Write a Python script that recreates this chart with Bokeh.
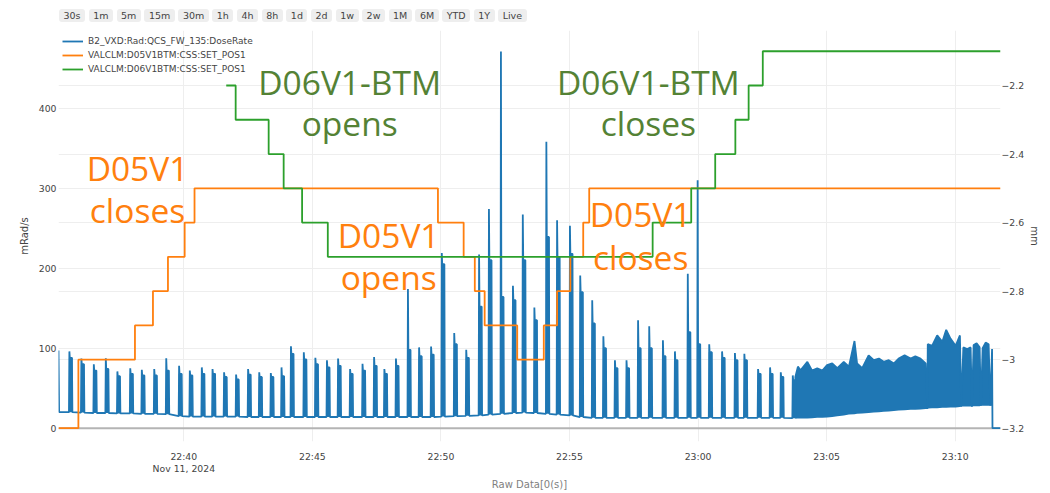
import pandas as pd
from bokeh.plotting import figure
from bokeh.models import (Range1d, LinearAxis, FixedTicker, DatetimeTickFormatter, Grid, Span,
                          Label, Legend, LegendItem, Div)
from bokeh.layouts import column
from bokeh.embed import file_html
from bokeh.resources import INLINE

DAY = "2024-11-11 "

# ---------------- data ----------------
dose_lead_times = ["22:35:07.6", "22:35:09"]
dose_lead_vals = [97, 20]

pulse_times = ["22:35:32", "22:36:00", "22:36:29", "22:36:57", "22:37:24", "22:37:54", "22:38:21",
               "22:38:50", "22:39:18", "22:39:48", "22:40:13", "22:40:41", "22:41:06", "22:41:33",
               "22:42:01", "22:42:29", "22:42:55", "22:43:22", "22:43:47", "22:44:09", "22:44:39",
               "22:45:06", "22:45:33", "22:45:59", "22:46:27", "22:46:56", "22:47:23", "22:47:47",
               "22:48:14", "22:48:42", "22:49:08", "22:49:36", "22:50:01", "22:50:30", "22:50:58",
               "22:51:28", "22:51:51", "22:52:19", "22:52:47", "22:53:10", "22:53:37", "22:54:05",
               "22:54:30", "22:55:00", "22:55:24", "22:55:52", "22:56:18", "22:56:45", "22:57:12",
               "22:57:39", "22:58:05", "22:58:37", "22:59:05", "22:59:35", "22:59:58", "23:00:25",
               "23:00:55", "23:01:25", "23:01:47", "23:02:19", "23:02:47", "23:03:12", "23:03:40"]
pulse_peak = [96, 87, 80, 87.5, 71, 75, 73, 74, 87.5, 78, 72, 76, 74, 70, 67, 74, 70, 69, 76, 102.5, 95,
              88, 85, 87, 74, 80.5, 89, 74, 87, 174, 101, 102, 219, 119, 98, 217, 274, 471, 178, 267,
              151, 358, 260, 253, 191, 160, 115, 85, 85, 135, 127.5, 110, 96, 193, 310, 105, 96, 94,
              93, 74, 76, 70, 66]
pulse_top = [88, 80, 72, 74, 65, 68, 66, 66, 72, 68, 66, 68, 68, 64, 61, 67, 64, 64, 65, 93, 86,
             80, 76, 78, 68, 72, 78, 68, 78, 98, 90, 92, 205, 105, 88, 152, 210, 164, 160, 210,
             135, 239, 214, 218, 170, 131, 100, 75, 75, 100, 100, 90, 85, 120, 105, 95, 88, 85,
             85, 68, 68, 64, 60]
pulse_base = [20, 19.5, 19, 19, 18.5, 18.5, 18, 18, 17.5, 15, 14.5, 14.5, 14.5, 14.5, 14.5, 14, 14, 14,
              14, 14, 14, 14, 14, 14, 14, 14, 14, 14, 14, 14, 14, 14, 14.5, 15, 15.5, 16, 17, 18, 19,
              19.5, 19, 18, 17, 16, 14, 13, 13, 13, 13, 13, 13, 13, 13, 13, 13, 13, 13, 13, 13, 13,
              13, 13, 12.5]

dense_times = ["23:03:47", "23:03:53", "23:03:59", "23:04:15", "23:04:26", "23:04:38", "23:04:50",
               "23:05:01", "23:05:13", "23:05:25", "23:05:40", "23:05:52", "23:06:05", "23:06:11",
               "23:06:23", "23:06:38", "23:06:50", "23:07:02", "23:07:13", "23:07:25", "23:07:37",
               "23:07:48", "23:08:02", "23:08:16", "23:08:27", "23:08:39", "23:08:51", "23:08:55",
               "23:08:56", "23:09:06", "23:09:18", "23:09:30", "23:09:39", "23:09:49", "23:10:01",
               "23:10:11", "23:10:14", "23:10:19", "23:10:28", "23:10:36", "23:10:39", "23:10:43",
               "23:10:50", "23:10:57", "23:11:00", "23:11:04", "23:11:11", "23:11:18", "23:11:22",
               "23:11:26"]
dense_top = [64, 77, 72.5, 83, 72, 75, 72, 79, 81, 75, 83, 77, 109, 81, 75, 91, 85, 87, 83, 85, 81,
             87, 91, 87, 90, 87, 81, 24, 105, 103, 116, 108, 123, 112, 103, 116, 27, 101, 99, 101,
             27, 104, 106, 101, 28, 100, 107, 105, 28, 99]
dense_low = [12, 12, 12, 12, 12.5, 13, 13, 13.5, 14, 15, 16, 17, 17.5, 18, 18.5, 19, 19.5, 20, 20.5,
             21, 21.5, 22, 22.5, 23, 23, 23.5, 24, 24, 24.5, 25, 25, 25.5, 25.5, 26, 26, 26.5, 27, 27,
             27, 27, 27, 27.5, 27.5, 27.5, 28, 28, 28, 28, 28, 28]

dose_tail_times = ["23:11:27", "23:11:45.7"]
dose_tail_vals = [0, 0]

d05_times = ["22:35:07.6", "22:35:54", "22:38:06", "22:38:48", "22:39:23", "22:40:02", "22:40:25",
             "22:49:53", "22:50:53", "22:51:19", "22:51:42", "22:52:58", "22:54:00", "22:54:31",
             "22:55:02", "22:55:32", "22:55:46", "23:11:45.7"]
d05_pos = [-3.2, -3.0, -2.9, -2.8, -2.7, -2.6, -2.5, -2.6, -2.7, -2.8, -2.9, -3.0, -2.9, -2.8, -2.7,
           -2.6, -2.5, -2.5]

d06_times = ["22:41:39", "22:42:01", "22:43:18", "22:43:53", "22:44:36", "22:45:36", "22:58:14",
             "22:59:44", "23:00:40", "23:01:27", "23:01:58", "23:02:31", "23:11:45.7"]
d06_pos = [-2.2, -2.3, -2.4, -2.5, -2.6, -2.7, -2.6, -2.5, -2.4, -2.3, -2.2, -2.1, -2.1]

series_names = ["B2_VXD:Rad:QCS_FW_135:DoseRate", "VALCLM:D05V1BTM:CSS:SET_POS1",
                "VALCLM:D06V1BTM:CSS:SET_POS1"]
x_tick_labels = ["22:40", "22:45", "22:50", "22:55", "23:00", "23:05", "23:10"]
left_ticks = [0, 100, 200, 300, 400]
right_ticks = [-3.2, -3.0, -2.8, -2.6, -2.4, -2.2]
right_tick_labels = ["\u22123.2", "\u22123", "\u22122.8", "\u22122.6", "\u22122.4", "\u22122.2"]
range_buttons = ["30s", "1m", "5m", "15m", "30m", "1h", "4h", "8h", "1d", "2d", "1w", "2w", "1M",
                 "6M", "YTD", "1Y", "Live"]

BLUE, ORANGE, GREEN = "#1f77b4", "#ff7f0e", "#2ca02c"
TXT_ORANGE, TXT_GREEN = "#ff800e", "#548235"


def ms(s):
    return pd.Timestamp(DAY + s).value / 1e6


SEC = 1000.0
PW = 8  # pulse block width in seconds

# ---------------- blue trace geometry ----------------
bx, by = [], []
for t, v in zip(dose_lead_times, dose_lead_vals):
    bx.append(ms(t)); by.append(v)
ql, qr, qb, qt = [], [], [], []
for t, pk, tp, bs in zip(pulse_times, pulse_peak, pulse_top, pulse_base):
    t0 = ms(t)
    bx += [t0, t0 + 1 * SEC, t0 + 2 * SEC, t0 + (PW - 1) * SEC, t0 + PW * SEC]
    by += [bs, pk, tp, tp, bs]
    ql.append(t0); qr.append(t0 + PW * SEC); qb.append(bs); qt.append(tp)
dx = [ms(t) for t in dense_times]
bx += dx
by += dense_top
for t, v in zip(dose_tail_times, dose_tail_vals):
    bx.append(ms(t)); by.append(v)

x0, x1 = ms(dose_lead_times[0]), ms(dose_tail_times[-1])

p = figure(width=1048, height=462, x_axis_type="datetime",
           x_range=Range1d(x0, x1), y_range=Range1d(-16.6, 497.1),
           output_backend="svg", toolbar_location=None,
           min_border_left=58, min_border_right=48, min_border_top=0, min_border_bottom=51)
p.extra_y_ranges = {"mm": Range1d(-3.2388, -2.0395)}
p.outline_line_color = None
p.background_fill_color = "white"

FONT = "DejaVu Sans"
TICK_SIZE = "9.3px"

# x axis
xt = FixedTicker(ticks=[ms(s + ":00") for s in x_tick_labels])
p.xaxis.ticker = xt
ctx_fmt = "%b %d, %Y"
p.xaxis.formatter = DatetimeTickFormatter(
    seconds="%H:%M", minsec="%H:%M", minutes="%H:%M", hourmin="%H:%M", hours="%H:%M",
    context=DatetimeTickFormatter(seconds=ctx_fmt, minsec=ctx_fmt, minutes=ctx_fmt,
                                  hourmin=ctx_fmt, hours=ctx_fmt),
    context_which="start")
p.xaxis.axis_label = "Raw Data[0(s)]"
p.xaxis.axis_label_text_color = "#7f7f7f"
p.xaxis.axis_label_text_font_size = "10px"
p.xaxis.axis_label_standoff = 2
p.xaxis.major_label_standoff = 9
p.xaxis.major_label_text_line_height = 1.1

# left axis
p.yaxis.ticker = FixedTicker(ticks=left_ticks)
p.yaxis.axis_label = "mRad/s"
p.yaxis.axis_label_text_font_size = "10px"
p.yaxis.axis_label_text_color = "#444444"
p.yaxis.major_label_standoff = 2
p.yaxis.axis_label_standoff = 6

# right axis
ra = LinearAxis(y_range_name="mm", ticker=FixedTicker(ticks=right_ticks), axis_label="mm",
                major_label_overrides=dict(zip(right_ticks, right_tick_labels)))
ra.axis_label_text_font_size = "10px"
ra.axis_label_text_color = "#444444"
ra.major_label_standoff = 1
ra.axis_label_standoff = 2
p.add_layout(ra, "right")

for ax in [p.xaxis[0], p.yaxis[0], ra]:
    ax.axis_line_color = None
    ax.major_tick_line_color = None
    ax.minor_tick_line_color = None
    ax.major_tick_out = 0
    ax.major_tick_in = 0
    ax.minor_tick_out = 0
    ax.minor_tick_in = 0
    ax.major_label_text_font = FONT
    ax.major_label_text_font_size = TICK_SIZE
    ax.major_label_text_color = "#444444"
    ax.axis_label_text_font = FONT
    ax.axis_label_text_font_style = "normal"

# grids
p.xgrid.ticker = xt
p.ygrid.ticker = FixedTicker(ticks=left_ticks)
for g in [p.xgrid[0], p.ygrid[0]]:
    g.grid_line_color = "#eeeeee"
    g.grid_line_width = 1
p.add_layout(Grid(dimension=1, ticker=FixedTicker(ticks=right_ticks), y_range_name="mm",
                  grid_line_color="#eeeeee", grid_line_width=1))
p.add_layout(Span(location=0, dimension="width", line_color="#b4b4b4", line_width=2,
                  level="underlay"))

# traces
p.quad(left=ql, right=qr, bottom=qb, top=qt, fill_color=BLUE, line_color=None)
p.varea(x=dx, y1=dense_low, y2=dense_top, fill_color=BLUE)
r_blue = p.line(bx, by, line_color=BLUE, line_width=1.8)
r_or = p.step([ms(t) for t in d05_times], d05_pos, mode="after", y_range_name="mm",
              line_color=ORANGE, line_width=1.8)
r_gr = p.step([ms(t) for t in d06_times], d06_pos, mode="after", y_range_name="mm",
              line_color=GREEN, line_width=1.8)

legend = Legend(items=[LegendItem(label=series_names[0], renderers=[r_blue]),
                       LegendItem(label=series_names[1], renderers=[r_or]),
                       LegendItem(label=series_names[2], renderers=[r_gr])],
                location="top_left", margin=4, padding=4, spacing=0,
                glyph_width=21, glyph_height=14, label_height=14, label_standoff=5,
                label_text_font=FONT, label_text_font_size="9px", label_text_color="#444444",
                background_fill_alpha=0, border_line_color=None)
p.add_layout(legend)

TEXT_SHIFT = 15  # correction for Bokeh's alphabetic-baseline placement


def yv(page_y):
    # vertical page position -> left-axis value (annotation placement only)
    return (427.7 - (page_y - TEXT_SHIFT)) / 0.8


def annot(t, page_y, text, color):
    p.add_layout(Label(x=ms(t), y=yv(page_y), text=text, text_align="center",
                       text_baseline="alphabetic", text_font="Open Sans",
                       text_font_size="33.5px", text_color=color))


annot("22:46:27", 97, "D06V1-BTM", TXT_GREEN)
annot("22:46:27", 138, "opens", TXT_GREEN)
annot("22:58:04", 97, "D06V1-BTM", TXT_GREEN)
annot("22:58:04", 138, "closes", TXT_GREEN)
annot("22:38:12", 183, "D05V1", TXT_ORANGE)
annot("22:38:12", 225, "closes", TXT_ORANGE)
annot("22:47:58", 250, "D05V1", TXT_ORANGE)
annot("22:47:58", 291, "opens", TXT_ORANGE)
annot("22:57:46", 229, "D05V1", TXT_ORANGE)
annot("22:57:46", 271, "closes", TXT_ORANGE)

# range selector buttons
span_style = ("display:inline-block;height:13px;line-height:13px;padding:0 4.5px;"
              "margin-right:3.6px;background:#eeeeee;border-radius:3px;")
btns = "".join(f'<span style="{span_style}">{b}</span>' for b in range_buttons)
div = Div(text=(f'<div style="padding-left:59px;padding-top:9px;white-space:nowrap;'
                f'font-family:\'DejaVu Sans\';font-size:9.5px;color:#444444;">{btns}</div>'),
          width=1048, height=30, margin=0)

layout = column(div, p, spacing=0)
open("out.html", "w").write(file_html(layout, INLINE))
